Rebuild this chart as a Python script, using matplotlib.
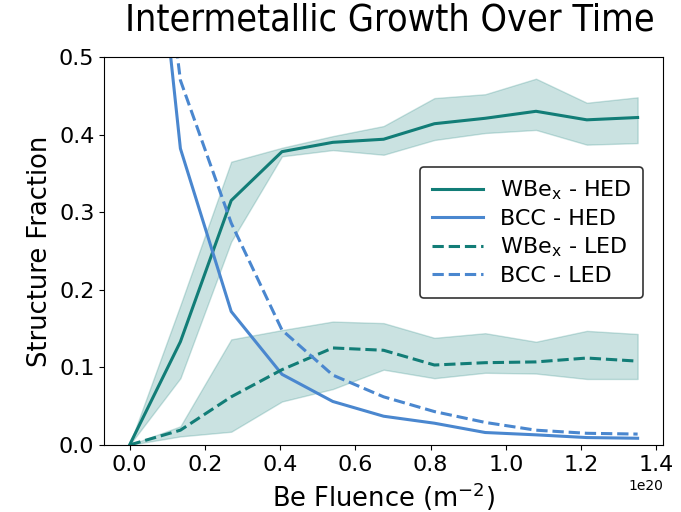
import numpy as np
import matplotlib
matplotlib.use("Agg")
import matplotlib.pyplot as plt

# Be fluence (units of 1e20 m^-2)
fluence = np.array([0, 0.135, 0.27, 0.405, 0.54, 0.675, 0.81, 0.945, 1.08, 1.215, 1.35]) * 1e20

# WBex fraction, high energy deposition, with band
wbe_hed = [0, 0.133, 0.315, 0.378, 0.390, 0.394, 0.414, 0.421, 0.430, 0.419, 0.422]
wbe_hed_lo = [0, 0.086, 0.262, 0.372, 0.380, 0.374, 0.393, 0.402, 0.406, 0.387, 0.389]
wbe_hed_hi = [0, 0.180, 0.365, 0.383, 0.398, 0.411, 0.447, 0.452, 0.472, 0.441, 0.448]

# WBex fraction, low energy deposition, with band
wbe_led = [0, 0.019, 0.062, 0.097, 0.125, 0.122, 0.103, 0.106, 0.107, 0.112, 0.108]
wbe_led_lo = [0, 0.011, 0.017, 0.056, 0.072, 0.097, 0.086, 0.093, 0.092, 0.085, 0.085]
wbe_led_hi = [0, 0.024, 0.136, 0.148, 0.159, 0.157, 0.138, 0.144, 0.133, 0.147, 0.143]

# BCC fraction
bcc_hed = [1.0, 0.382, 0.172, 0.091, 0.056, 0.037, 0.028, 0.016, 0.013, 0.0095, 0.0086]
bcc_led = [1.0, 0.470, 0.286, 0.148, 0.090, 0.062, 0.043, 0.029, 0.019, 0.015, 0.014]

teal = "#127d77"
blue = "#4a87cf"

fig = plt.figure(figsize=(6.81, 5.12), dpi=100)
ax = fig.add_axes([0.153, 0.131, 0.8206, 0.7577])

# shaded spread around the WBex curves
ax.fill_between(fluence, wbe_hed_lo, wbe_hed_hi, color=teal, alpha=0.22, linewidth=1)
ax.fill_between(fluence, wbe_led_lo, wbe_led_hi, color=teal, alpha=0.22, linewidth=1)

ax.plot(fluence, wbe_hed, color=teal, lw=2.2, label=r"WBe$_\mathregular{x}$ - HED")
ax.plot(fluence, bcc_hed, color=blue, lw=2.2, label="BCC - HED")
ax.plot(fluence, wbe_led, color=teal, lw=2.2, ls="--", label=r"WBe$_\mathregular{x}$ - LED")
ax.plot(fluence, bcc_led, color=blue, lw=2.2, ls="--", label="BCC - LED")

ax.set_ylim(0, 0.5)
ax.set_yticks([0, 0.1, 0.2, 0.3, 0.4, 0.5])
ax.tick_params(labelsize=16)
ax.xaxis.get_offset_text().set_fontsize(10)

ax.set_xlabel(r"Be Fluence (m$^{-2}$)", fontsize=18.5)
ax.set_ylabel("Structure Fraction", fontsize=18.5)

fig.suptitle("Intermetallic Growth Over Time", fontsize=27, x=0.573, y=0.995,
             fontstretch="condensed")

leg = ax.legend(loc="center right", bbox_to_anchor=(0.965, 0.548), borderaxespad=0,
                fontsize=16, handlelength=2.3, handletextpad=0.75, labelspacing=0.3,
                borderpad=0.55, edgecolor="#333333", framealpha=1)
leg.get_frame().set_linewidth(1.2)

fig.savefig("out.png", dpi=100)
